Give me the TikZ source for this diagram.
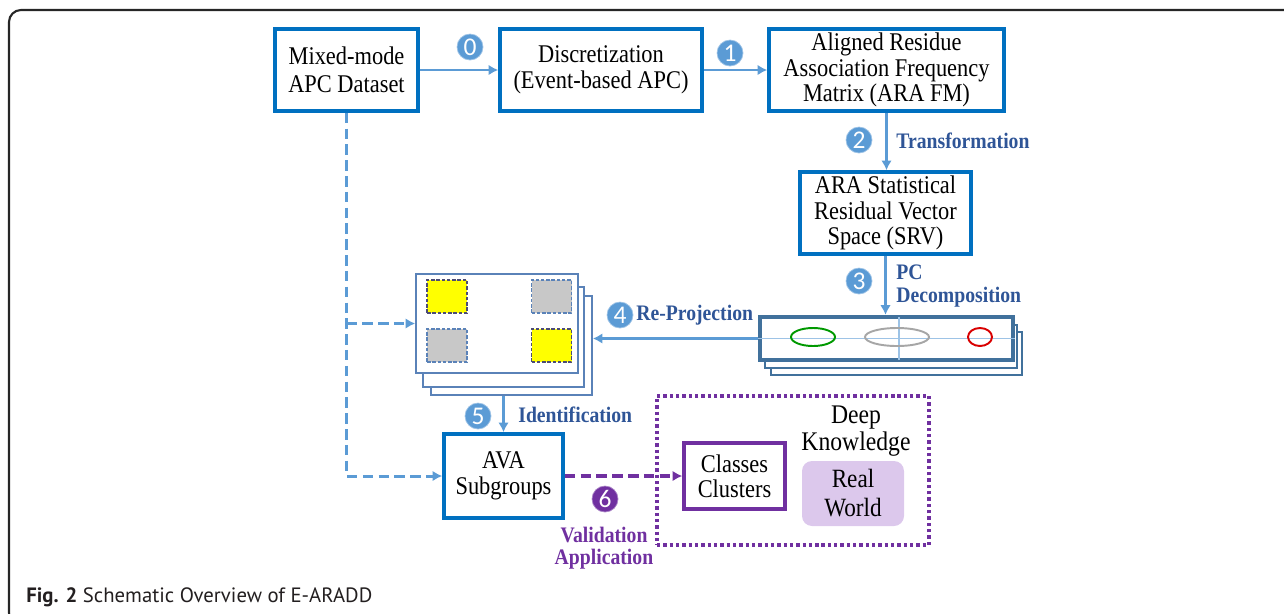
\documentclass[tikz,border=0pt]{standalone}
\usepackage{fontspec}
\setmainfont{Liberation Serif}[FakeStretch=0.88]
\newfontfamily\labfont{Liberation Serif}[FakeStretch=0.89]
\newfontfamily\numfont{Carlito}
\newfontfamily\capfont{PT Sans}
\usetikzlibrary{arrows.meta,shapes.geometric}

\definecolor{boxblue}{HTML}{0070C0}
\definecolor{arrblue}{HTML}{5B9BD5}
\definecolor{labblue}{HTML}{2F5597}
\definecolor{purp}{HTML}{7030A0}
\definecolor{stackblue}{HTML}{41719C}
\definecolor{thinblue}{HTML}{5A82B8}
\definecolor{gridblue}{HTML}{9DC3E6}
\definecolor{rwfill}{HTML}{DCC8EC}
\definecolor{sqgray}{HTML}{C8C8C8}
\definecolor{sqyellow}{HTML}{FFFF00}
\definecolor{capgray}{HTML}{231F20}

\tikzset{
  box/.style={draw=boxblue, line width=2pt, fill=white, align=center, inner sep=0pt,
    font=\fontsize{14.5}{14.5}\selectfont},
  pbox/.style={draw=purp, line width=2pt, fill=white, align=center, inner sep=0pt,
    font=\fontsize{14.5}{14}\selectfont},
  flow/.style={arrblue, line width=1.5pt, -{Latex[length=5.5pt,width=6pt]}},
  dflow/.style={arrblue, line width=1.7pt, dash pattern=on 6pt off 3pt, -{Latex[length=5.5pt,width=6pt]}},
  pflow/.style={purp, line width=1.9pt, dash pattern=on 6pt off 3pt, -{Latex[length=5.5pt,width=6pt]}},
  num/.style={circle, fill=arrblue, draw=gridblue, line width=0.4pt, text=white, minimum size=0.52cm,
    inner sep=0pt, font=\numfont\fontsize{14.5}{14.5}\selectfont},
  lab/.style={text=labblue, anchor=west, inner sep=0pt, font=\labfont\bfseries\fontsize{12.6}{14}\selectfont},
  plab/.style={text=purp, inner sep=0pt, font=\labfont\bfseries\fontsize{12.6}{14}\selectfont},
  sheet/.style={draw=thinblue, line width=0.9pt, fill=white, inner sep=0pt},
  pcsheet/.style={draw=stackblue, line width=1pt, fill=white, inner sep=0pt},
  sqy/.style={draw=black!60!blue!40!gray, line width=0.7pt, dash pattern=on 2pt off 1pt, fill=sqyellow,
    minimum width=0.8cm, minimum height=0.66cm, inner sep=0pt},
  sqg/.style={draw=thinblue, line width=0.7pt, dash pattern=on 2pt off 1pt, fill=sqgray,
    minimum width=0.8cm, minimum height=0.66cm, inner sep=0pt},
}

\begin{document}
\begin{tikzpicture}[x=0.02cm, y=-0.02cm]
\useasboundingbox (0,0) rectangle (1284,613);

% outer frame
\draw[line width=1.2pt, draw=black!85, rounded corners=0.24cm] (9,10) rectangle (1300,625);

% top row
\node[box, minimum width=2.86cm, minimum height=1.64cm, font=\fontsize{14.5}{16}\selectfont]
  (A) at (346.5,70) {Mixed-mode\\APC Dataset};
\node[box, minimum width=4.04cm, minimum height=1.64cm] (B) at (601,70) {Discretization\\(Event-based APC)};
\node[box, minimum width=4.70cm, minimum height=1.64cm] (C) at (886.5,70)
  {Aligned Residue\\Association Frequency\\Matrix (ARA FM)};
\node[box, minimum width=3.42cm, minimum height=1.64cm] (D) at (885.5,213)
  {ARA Statistical\\Residual Vector\\Space (SRV)};

% principal component stack
\node[pcsheet, minimum width=5.02cm, minimum height=0.86cm] (P3) at (896.5,353.5) {};
\node[pcsheet, minimum width=5.04cm, minimum height=0.86cm] (P2) at (891,346.5) {};
\node[pcsheet, line width=2.4pt, minimum width=5.06cm, minimum height=0.86cm] (P1) at (886.5,338.5) {};
\draw[gridblue, line width=0.7pt] (P1.west) -- (P1.east);
\draw[gridblue, line width=0.7pt] (899,317) coordinate (pt) -- (899,360) coordinate (pb);
\node[draw=green!60!black, line width=1.1pt, ellipse, minimum width=0.88cm, minimum height=0.36cm, inner sep=0pt] (e1) at (813,337) {};
\node[draw=gray!70, line width=1.1pt, ellipse, minimum width=1.28cm, minimum height=0.36cm, inner sep=0pt] (e2) at (897,337) {};
\node[draw=red!85!black, line width=1.1pt, ellipse, minimum width=0.48cm, minimum height=0.36cm, inner sep=0pt] (e3) at (980,337) {};

% projected sheets
\node[sheet, minimum width=3.22cm, minimum height=1.98cm] (L3) at (511.5,345.5) {};
\node[sheet, minimum width=3.22cm, minimum height=2.0cm] (L2) at (503.5,337) {};
\node[sheet, minimum width=3.24cm, minimum height=1.98cm] (L1) at (497,323.5) {};
\node[sqy] (s1) at (447,296.5) {};
\node[sqg] (s2) at (551.5,296.5) {};
\node[sqg] (s3) at (447,345.5) {};
\node[sqy] (s4) at (551.5,345.5) {};

% subgroups and knowledge
\node[box, minimum width=2.38cm, minimum height=1.68cm] (E) at (503.5,476) {AVA\\Subgroups};
\node[draw=purp, line width=1.9pt, dash pattern=on 1.9pt off 1.7pt, minimum width=5.44cm,
  minimum height=2.98cm, inner sep=0pt] (K) at (793,470.5) {};
\node[pbox, minimum width=2.02cm, minimum height=1.32cm] (CC) at (734.5,476) {Classes\\Clusters};
\node[align=center, inner sep=0pt, font=\fontsize{15.3}{15}\selectfont] (DK) at (856,431) {Deep\\Knowledge};
\node[fill=rwfill, rounded corners=0.2cm, minimum width=2.04cm, minimum height=1.3cm, align=center,
  inner sep=0pt, font=\fontsize{15}{16.5}\selectfont] (RW) at (853,493.5) {Real\\World};

% connectors
\draw[flow] (A.east) -- (B.west);
\draw[flow] (B.east) -- (C.west);
\draw[flow] (C.south) -- (C.south |- D.north);
\draw[flow] (D.south) -- (D.south |- P1.north);
\draw[flow] (P1.west) -- (P1.west -| L3.east);
\draw[flow] (E.north |- L3.south) -- (E.north);
\draw[dflow] (A.south) |- (E.west);
\draw[dflow] (A.south |- L1.west) -- (L1.west);
\draw[pflow] (E.east) -- (CC.west);

% step numbers
\node[num] (n0) at (470,47) {0};
\node[num] (n1) at (730,53) {1};
\node[num] (n2) at (859,140) {2};
\node[num] (n3) at (859,281) {3};
\node[num] (n4) at (620,315) {4};
\node[num] (n5) at (478,416) {5};
\node[num, fill=purp, draw=purp!60] (n6) at (605,499) {6};

% step labels
\node[lab] (t2) at (896,141) {Transformation};
\node[lab] (t3a) at (896,272) {PC};
\node[lab] (t3b) at (896,297) {Decomposition};
\node[lab] (t4) at (636,315) {Re-Projection};
\node[lab] (t5) at (518,415) {Identification};
\node[plab] (t6a) at (604,535) {Validation};
\node[plab] (t6b) at (604,559) {Application};

% caption
\node[anchor=base west, inner sep=0pt, text=capgray, font=\capfont\fontsize{11.8}{13}\selectfont]
  (cap) at (26,602) {\textbf{Fig. 2} Schematic Overview of E-ARADD};
\end{tikzpicture}
\end{document}
